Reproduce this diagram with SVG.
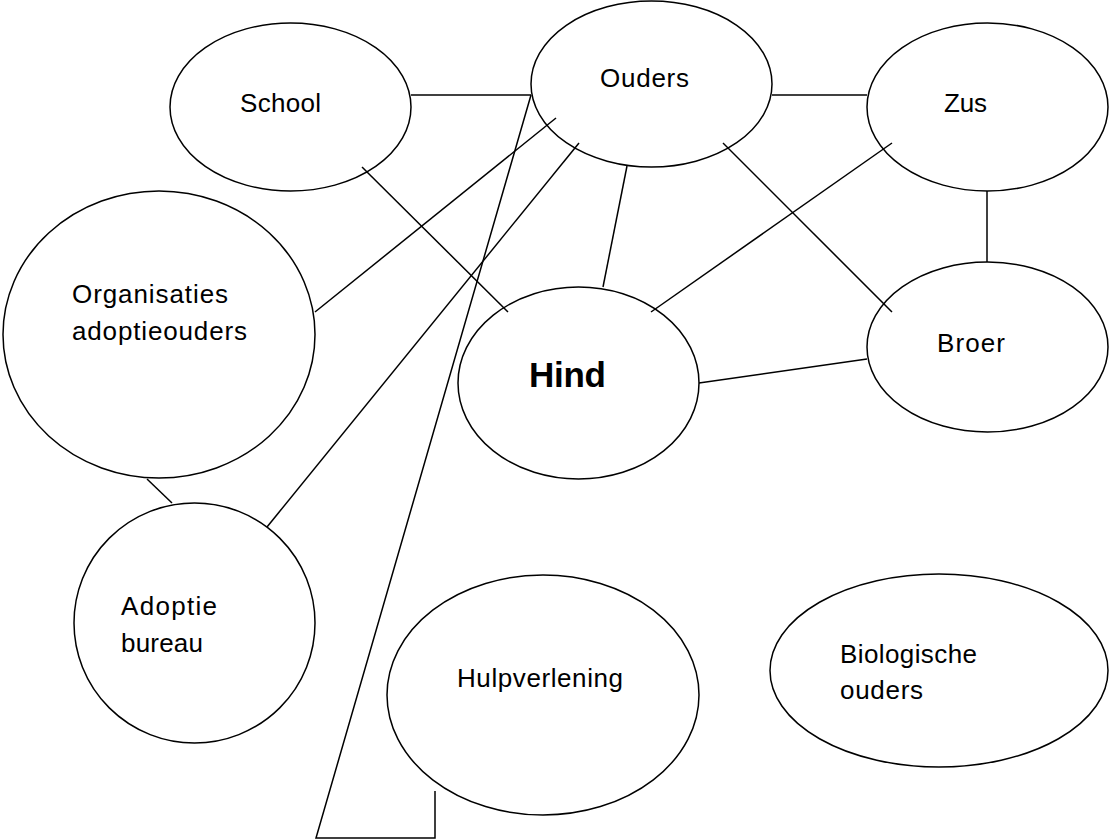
<svg xmlns="http://www.w3.org/2000/svg" width="1109" height="839" viewBox="0 0 1109 839">
<style>
.n{fill:#fff;stroke:#000;stroke-width:1.5}
.c{fill:none;stroke:#000;stroke-width:1.5}
text{font-family:"Liberation Sans",Arial,sans-serif;font-size:26px;fill:#000}
.b{font-weight:bold;font-size:35px}
</style>
<rect width="1109" height="839" fill="#fff"/>
<g id="connectors">
<line class="c" x1="411" y1="95" x2="531" y2="95"/>
<line class="c" x1="772" y1="95" x2="867" y2="95"/>
<line class="c" x1="987" y1="191" x2="987" y2="262"/>
<line class="c" x1="362" y1="167" x2="508" y2="312"/>
<line class="c" x1="556" y1="118" x2="315" y2="312"/>
<line class="c" x1="579" y1="143" x2="267" y2="527"/>
<polyline class="c" points="531,95 316,838 435,838 435,791"/>
<line class="c" x1="627" y1="166" x2="603" y2="287"/>
<line class="c" x1="723" y1="143" x2="892" y2="312"/>
<line class="c" x1="892" y1="143" x2="651" y2="312"/>
<line class="c" x1="699" y1="383" x2="867" y2="359"/>
<line class="c" x1="147" y1="479" x2="172" y2="503"/>
</g>
<g id="school"><ellipse class="n" cx="290.5" cy="107" rx="120.5" ry="84" fill="none" style="fill:none"/><text x="240" y="112" textLength="81">School</text></g>
<g id="ouders"><ellipse class="n" cx="651.5" cy="84" rx="120.5" ry="83" style="fill:none"/><text x="600" y="87" textLength="89">Ouders</text></g>
<g id="zus"><ellipse class="n" cx="987.5" cy="107" rx="120.5" ry="84" style="fill:none"/><text x="944" y="112" textLength="43">Zus</text></g>
<g id="broer"><ellipse class="n" cx="987.5" cy="347" rx="120.5" ry="85" style="fill:none"/><text x="937" y="352" textLength="68">Broer</text></g>
<g id="organisaties"><ellipse class="n" cx="159" cy="334.5" rx="156" ry="143.5" style="fill:none"/><text x="72" y="303" textLength="156">Organisaties</text><text x="72" y="340" textLength="175">adoptieouders</text></g>
<g id="hind"><ellipse class="n" cx="578.5" cy="383" rx="120.5" ry="96" style="fill:none"/><text class="b" x="529" y="387" textLength="77">Hind</text></g>
<g id="adoptie"><ellipse class="n" cx="194.5" cy="623" rx="120.5" ry="120" style="fill:none"/><text x="121" y="615" textLength="96">Adoptie</text><text x="121" y="652" textLength="82">bureau</text></g>
<g id="hulpverlening"><ellipse class="n" cx="543" cy="695" rx="156" ry="120" style="fill:none"/><text x="457" y="687" textLength="166">Hulpverlening</text></g>
<g id="biologische"><ellipse class="n" cx="939" cy="670.5" rx="169" ry="96.5" style="fill:none"/><text x="840" y="663" textLength="137">Biologische</text><text x="840" y="699" textLength="83">ouders</text></g>
</svg>
